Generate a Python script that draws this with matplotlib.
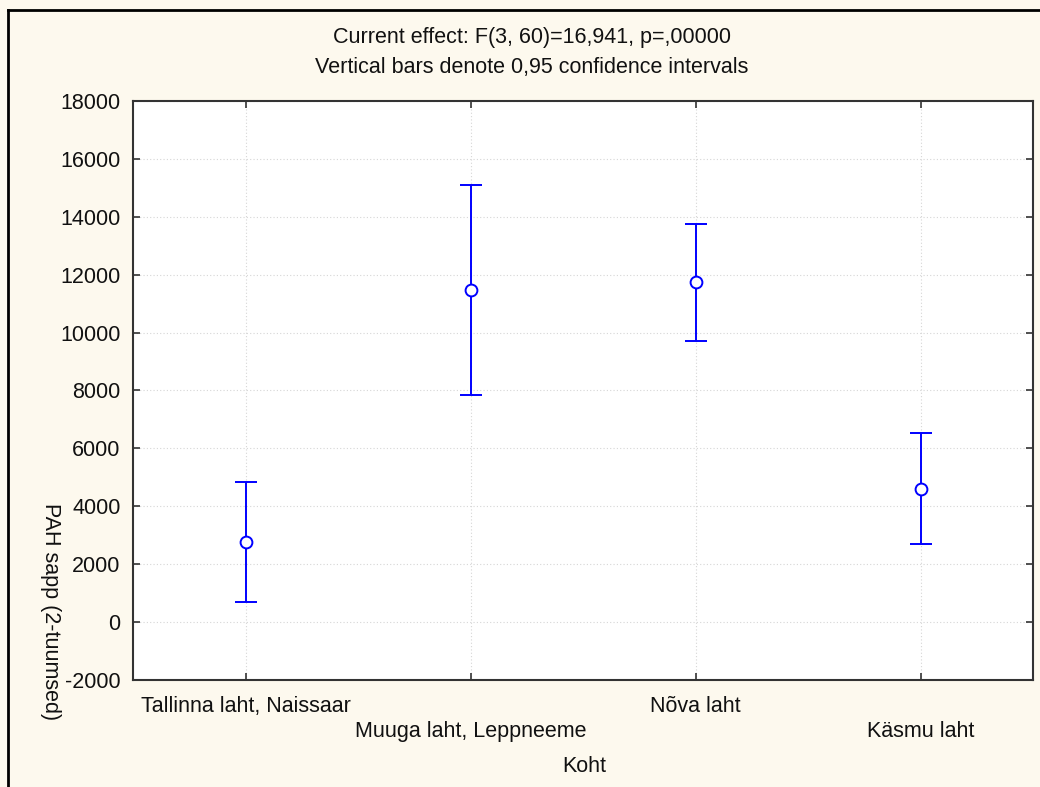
import numpy as np
import matplotlib
matplotlib.use("Agg")
import matplotlib.pyplot as plt
from matplotlib.lines import Line2D
from matplotlib.transforms import offset_copy

plt.rcParams['font.family'] = ['Liberation Sans', 'DejaVu Sans']

# --- data ---
sites = ["Tallinna laht, Naissaar", "Muuga laht, Leppneeme", "Nõva laht", "Käsmu laht"]
means = [2780, 11480, 11760, 4610]
ci_low = [690, 7860, 9720, 2690]
ci_high = [4830, 15100, 13760, 6520]
yticks = list(range(-2000, 18001, 2000))

BG = "#FDF9EE"
BLUE = "#0000FF"
FS = 15.5

fig = plt.figure(figsize=(10.4, 7.87), dpi=100, facecolor=BG)
ax = fig.add_axes([133/1040, 1 - 680/787, 900/1040, 579/787])
ax.set_facecolor("white")

x = np.arange(len(sites))
means = np.array(means)
err = [means - np.array(ci_low), np.array(ci_high) - means]
ax.errorbar(x, means, yerr=err, fmt='o', color=BLUE, ecolor=BLUE, elinewidth=1.4,
            capsize=8, capthick=1.4, markersize=8.5, markerfacecolor='white',
            markeredgecolor=BLUE, markeredgewidth=1.4, zorder=3)

ax.set_xlim(-0.5, 3.5)
ax.set_ylim(-2000, 18000)
ax.set_yticks(yticks)
ax.set_yticklabels([str(v) for v in yticks], fontsize=FS)
ax.set_xticks(x)
ax.set_xticklabels([])

# staggered category labels
for i, s in enumerate(sites):
    off = -16 if i % 2 == 0 else -41
    ax.text(i, -2000, s, ha='center', va='top', fontsize=FS, color='#111111',
            transform=offset_copy(ax.transData, fig=fig, x=0, y=off, units='dots'))

ax.grid(True, color='#D6D6D6', linestyle=(0, (1, 2)), linewidth=0.8)
ax.tick_params(axis='both', direction='in', length=5, width=1.2, colors='#333333',
               labelcolor='#111111', top=True, right=True)
ax.tick_params(axis='y', pad=9)
for sp in ax.spines.values():
    sp.set_linewidth(1.5)
    sp.set_color('#333333')

fig.text(50/1040, 1 - 612/787, "PAH sapp (2-tuumsed)", rotation=270, ha='center', va='center',
         fontsize=FS, color='#111111')
fig.text(584/1040, 1 - 767/787, "Koht", ha='center', va='center', fontsize=FS, color='#111111')
fig.text(532/1040, 1 - 38/787, "Current effect: F(3, 60)=16,941, p=,00000", ha='center',
         va='center', fontsize=FS, color='#111111')
fig.text(532/1040, 1 - 67/787, "Vertical bars denote 0,95 confidence intervals", ha='center',
         va='center', fontsize=FS, color='#111111')

# outer frame (left and top edges)
fig.add_artist(Line2D([7.5/1040, 7.5/1040], [0, 1 - 9.5/787], transform=fig.transFigure,
                      color='black', linewidth=2))
fig.add_artist(Line2D([7.5/1040, 1], [1 - 9.5/787, 1 - 9.5/787], transform=fig.transFigure,
                      color='black', linewidth=2))

fig.savefig("out.png", dpi=100, facecolor=BG)
